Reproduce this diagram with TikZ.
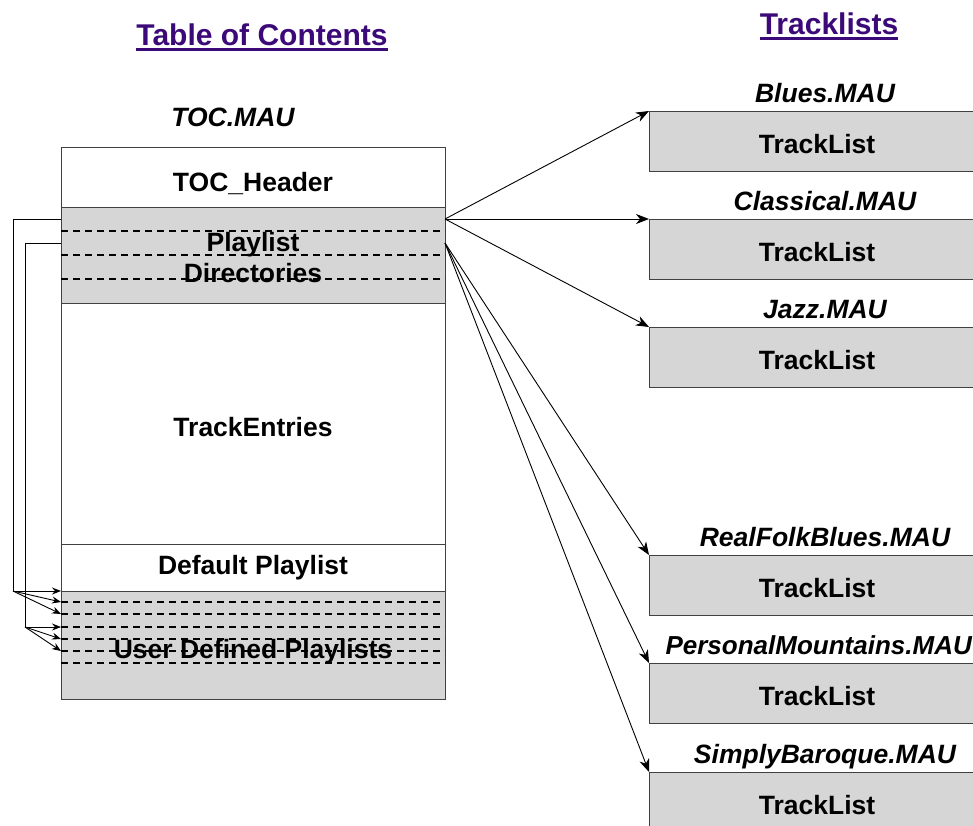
\documentclass[tikz,border=0pt]{standalone}
\usepackage{fontspec}
\setmainfont{Liberation Sans}
\usetikzlibrary{arrows.meta}
\definecolor{boxgray}{RGB}{214,214,214}
\definecolor{titlecol}{RGB}{60,10,120}
\begin{document}
\begin{tikzpicture}[x=1pt,y=-1pt,
  txt/.style={font=\fontsize{26.5}{30}\selectfont\bfseries, inner sep=0pt},
  itxt/.style={font=\fontsize{26.5}{30}\selectfont\bfseries\itshape, inner sep=0pt},
  ttl/.style={font=\fontsize{30}{34}\selectfont\bfseries, text=titlecol, inner sep=0pt},
  wbox/.style={draw=black!75, line width=1.1pt, fill=white, rectangle, inner sep=0pt, anchor=north west},
  gbox/.style={draw=black!75, line width=1.1pt, fill=boxgray, rectangle, inner sep=0pt, anchor=north west},
  dline/.style={black, line width=1.1pt, dash pattern=on 7pt off 5pt},
  arr/.style={-{Stealth[length=13pt,width=10pt,inset=4pt]}, line width=0.9pt},
  sarr/.style={-{Stealth[length=9pt,width=7pt,inset=3pt]}, line width=0.9pt},
  conn/.style={line width=0.9pt}
]
\useasboundingbox (0,0) rectangle (973,825);
\clip (0,0) rectangle (973,825);

% titles
\node[ttl, anchor=base] (t1) at (262,45) {Table of Contents};
\draw[titlecol, line width=2.6pt] ([yshift=-4.5pt]t1.base west) -- ([yshift=-4.5pt]t1.base east);
\node[ttl, anchor=base] (t2) at (829,34) {Tracklists};
\draw[titlecol, line width=2.6pt] ([yshift=-4.5pt]t2.base west) -- ([yshift=-4.5pt]t2.base east);

% TOC file
\node[itxt, anchor=base] (tocname) at (233,126) {TOC.MAU};
\node[wbox, minimum width=384pt, minimum height=60pt] (hdr) at (61,147) {};
\node[gbox, minimum width=384pt, minimum height=96pt] (pd) at (61,207) {};
\node[wbox, minimum width=384pt, minimum height=241pt] (te) at (61,303) {};
\node[wbox, minimum width=384pt, minimum height=47pt] (dp) at (61,544) {};
\node[gbox, minimum width=384pt, minimum height=108pt] (ud) at (61,591) {};

\foreach \yy in {231,255,279} \draw[dline] (61,\yy) -- (445,\yy);
\foreach \yy in {602,614,627,639,651,663} \draw[dline] (61,\yy) -- (445,\yy);

\node[txt, anchor=base] at (253,191) {TOC\_Header};
\node[txt, anchor=base] at (253,251) {Playlist};
\node[txt, anchor=base] at (253,282) {Directories};
\node[txt, anchor=base] at (253,436) {TrackEntries};
\node[txt, anchor=base] at (253,574) {Default Playlist};
\node[txt, anchor=base] at (253,658) {User Defined Playlists};

% left connectors
\coordinate (l1) at (61,219);
\coordinate (l2) at (61,243);
\coordinate (k1) at (13,591);
\coordinate (k2) at (25,627);
\draw[conn] (l1) -- (13,219) -- (k1);
\draw[conn] (l2) -- (25,243) -- (k2);
\draw[sarr] (k1) -- (61,591);
\draw[sarr] (k1) -- (61,602);
\draw[sarr] (k1) -- (61,614);
\draw[sarr] (k2) -- (61,627);
\draw[sarr] (k2) -- (61,639);
\draw[sarr] (k2) -- (61,651);

% tracklists
\foreach \nm/\lab/\yy in {blues/Blues.MAU/111, classical/Classical.MAU/219, jazz/Jazz.MAU/327, real/RealFolkBlues.MAU/555, simply/SimplyBaroque.MAU/772}{
  \node[gbox, minimum width=336pt, minimum height=60pt] (\nm) at (649,\yy) {};
  \node[txt, anchor=base] at (817,\yy+42) {TrackList};
  \node[itxt, anchor=base] at (825,\yy-9) {\lab};
}
\node[gbox, minimum width=336pt, minimum height=60pt] (pers) at (649,663) {};
\node[txt, anchor=base] at (817,705) {TrackList};
\node[itxt, anchor=base east, font=\fontsize{26}{30}\selectfont\bfseries\itshape] at (972,654) {PersonalMountains.MAU};

% right arrows
\coordinate (s1) at (445,219);
\coordinate (s2) at (445,243);
\draw[arr] (s1) -- (blues.north west);
\draw[arr] (s1) -- (classical.north west);
\draw[arr] (s1) -- (jazz.north west);
\draw[arr] (s2) -- (real.north west);
\draw[arr] (s2) -- (pers.north west);
\draw[arr] (s2) -- (simply.north west);
\end{tikzpicture}
\end{document}
